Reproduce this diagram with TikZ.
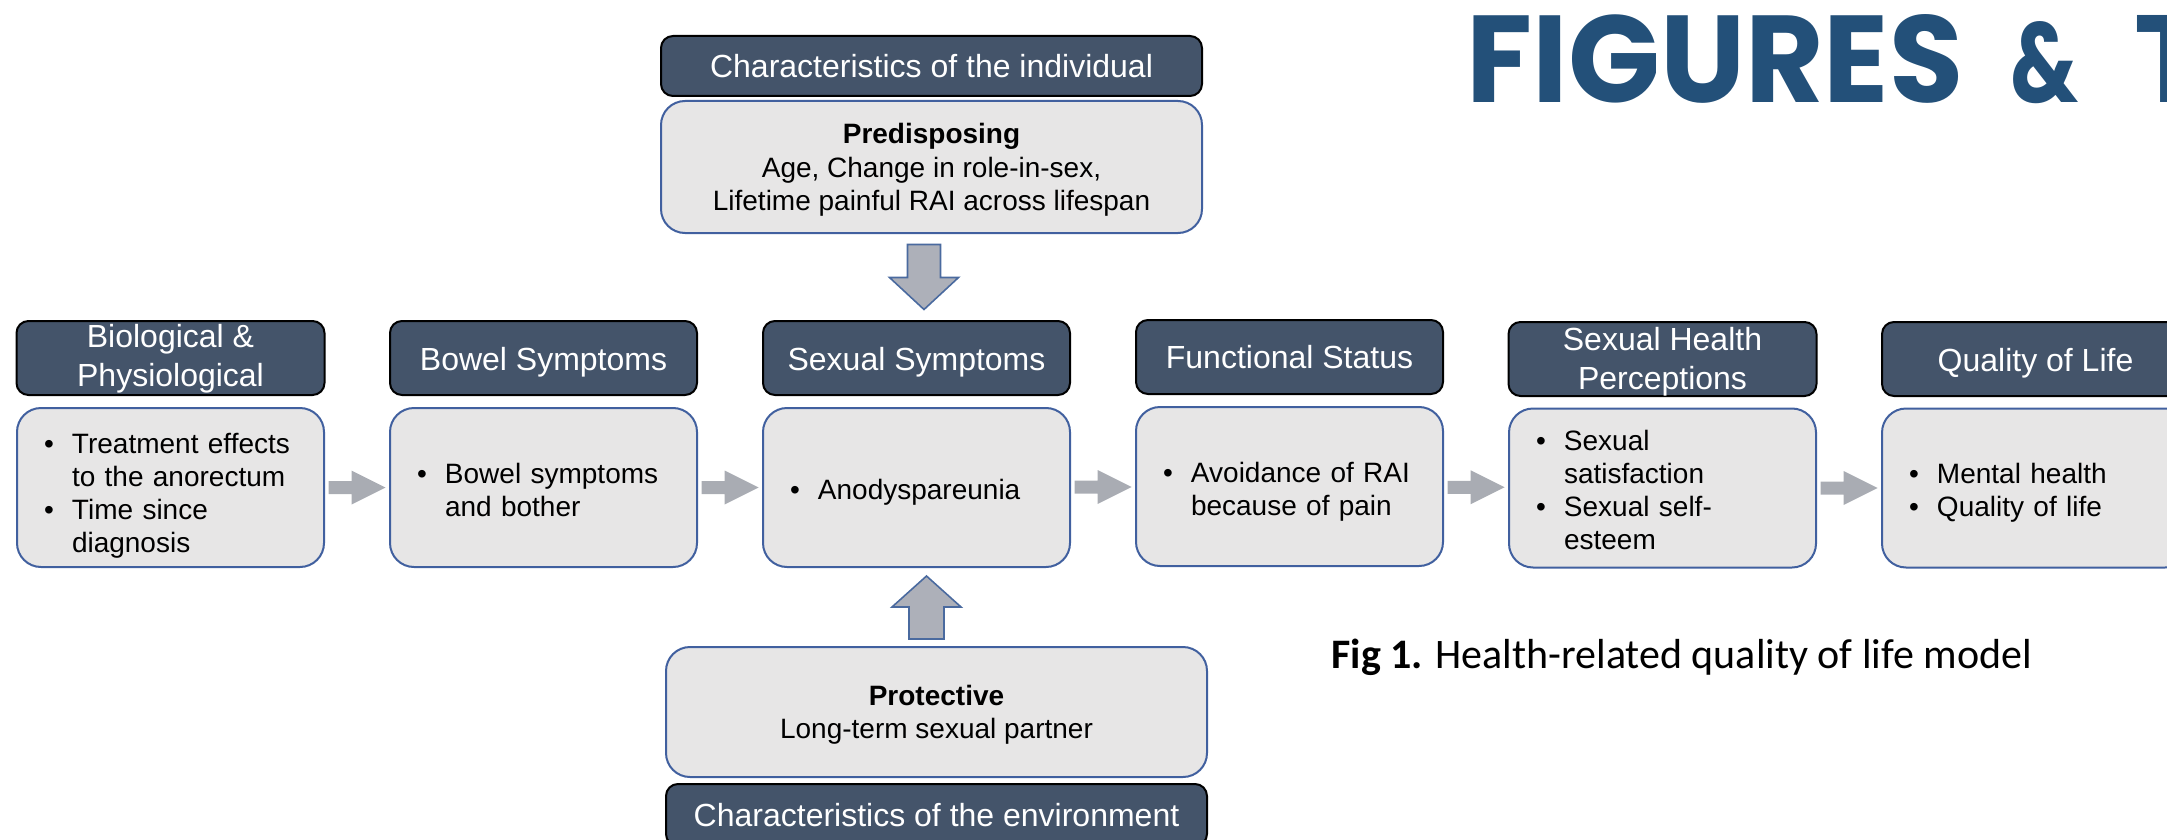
\documentclass[tikz,border=0pt]{standalone}
\usepackage{graphicx}
\usepackage{fontspec}
\setmainfont{Liberation Sans}
\newfontfamily\capfont{Carlito}
\newfontfamily\figfont{Poppins}
\usetikzlibrary{calc}
\setlength{\parindent}{0pt}
\definecolor{hdrfill}{HTML}{44546A}
\definecolor{boxfill}{HTML}{E7E6E6}
\definecolor{boxline}{HTML}{41609F}
\definecolor{arrgray}{HTML}{A9ACB3}
\definecolor{varrfill}{HTML}{ADB0B9}
\definecolor{varrline}{HTML}{4A6A9F}
\definecolor{figblue}{HTML}{235079}
% shift content down by #1 inside its node, keeping its total height
\newcommand{\tdown}[2]{\raisebox{0pt}[\dimexpr\height+#1\relax][\dimexpr\depth-#1\relax]{#2}}
\newcommand{\blist}[2]{\tdown{#1}{\begin{tabular}{@{}p{14pt}@{}l@{}}#2\end{tabular}}}
\newcommand{\plines}[3]{\tdown{#1}{\parbox{#2}{\centering #3}}}
\newcommand{\harrow}[2]{%
  \path ($(#1.east)!0.5!(#2.west)$) coordinate (ha#1);
  \fill[arrgray] ($(ha#1)+(-28.5,-6.5)$) -- ++(23,0) -- ++(0,-10.5) -- ++(34,17)
     -- ++(-34,17) -- ++(0,-10.5) -- ++(-23,0) -- cycle;}
\tikzset{
  hdr/.style={draw=black, line width=1pt, fill=hdrfill, rounded corners=6pt,
    text=white, font=\fontsize{16}{19.5}\selectfont, align=center,
    minimum width=153.5pt, minimum height=37pt, inner xsep=2pt, inner ysep=1pt},
  cbox/.style={draw=boxline, line width=1pt, fill=boxfill, rounded corners=12pt,
    minimum width=153.5pt, minimum height=79.5pt, text width=126.5pt,
    inner xsep=13.5pt, inner ysep=2pt, align=left,
    font=\fontsize{14}{16.5}\selectfont},
  ptbox/.style={draw=boxline, line width=1pt, fill=boxfill, rounded corners=12pt,
    minimum width=270.5pt, align=center, font=\fontsize{14}{16.75}\selectfont},
  varr/.style={fill=varrfill, draw=varrline, line width=0.8pt, line join=miter}
}
\begin{document}
\begin{tikzpicture}[x=0.5pt,y=-0.5pt]
\useasboundingbox (0,0) rectangle (2167,840);
\clip (0,0) rectangle (2167,840);

% title
\node[anchor=base west, inner sep=0, text=figblue,
  font=\figfont\bfseries\fontsize{62}{62}\selectfont] (fig) at (1466,103)
  {\resizebox{248.5pt}{44pt}{FIGURES}\hspace{23.5pt}\resizebox{34pt}{40.5pt}{\&}\hspace{28pt}T};

% top block
\node[hdr, minimum width=270.5pt, minimum height=30pt] (indiv) at (931.5,66) {Characteristics of the individual};
\node[ptbox, minimum height=66pt] (pred) at (931.5,167)
  {\plines{1.5pt}{260pt}{\textbf{Predisposing}\\Age, Change in role-in-sex,\\Lifetime painful RAI across lifespan}};

% row headers
\node[hdr] (bioh) at (170.5,358) {\plines{0.5pt}{150pt}{Biological \&\\Physiological}};
\node[hdr] (bowh) at (543.5,358) {\tdown{2pt}{Bowel Symptoms}};
\node[hdr] (sexh) at (916.5,358) {\tdown{2pt}{Sexual Symptoms}};
\node[hdr] (funh) at (1289.5,357) {Functional Status};
\node[hdr] (shph) at (1662.5,359) {\plines{1.5pt}{150pt}{Sexual Health\\Perceptions}};
\node[hdr] (qolh) at (2035.5,359) {\tdown{2pt}{Quality of Life}};

% row contents
\node[cbox] (bioc) at (170.5,487.5) {\blist{4.5pt}{\textbullet & Treatment effects\\ & to the anorectum\\ \textbullet & Time since\\ & diagnosis}};
\node[cbox] (bowc) at (543.5,487.5) {\blist{2.75pt}{\textbullet & Bowel symptoms\\ & and bother}};
\node[cbox] (sexc) at (916.5,487.5) {\blist{2.5pt}{\textbullet & Anodyspareunia}};
\node[cbox] (func) at (1289.5,486.5) {\blist{2.75pt}{\textbullet & Avoidance of RAI\\ & because of pain}};
\node[cbox] (shpc) at (1662.5,488) {\blist{2.75pt}{\textbullet & Sexual\\ & satisfaction\\ \textbullet & Sexual self-\\ & esteem}};
\node[cbox] (qolc) at (2035.5,488) {\blist{2.75pt}{\textbullet & Mental health\\ \textbullet & Quality of life}};

% horizontal arrows
\harrow{bioc}{bowc}
\harrow{bowc}{sexc}
\harrow{sexc}{func}
\harrow{func}{shpc}
\harrow{shpc}{qolc}

% bottom block
\node[ptbox, minimum height=65pt] (prot) at (936.5,712)
  {\plines{1.5pt}{260pt}{\textbf{Protective}\\Long-term sexual partner}};
\node[hdr, minimum width=270.5pt, minimum height=31pt] (env) at (936.5,815) {Characteristics of the environment};

% vertical arrows
\path ($(pred.south)!0.5!(sexh.north)$) coordinate (dn);
\filldraw[varr] ($(dn)+(-16.5,-32.5)$) -- ++(33,0) -- ++(0,33) -- ++(18,0)
   -- ++(-34.5,32) -- ++(-34.5,-32) -- ++(18,0) -- cycle;
\path ($(sexc.south)!0.5!(prot.north)$) coordinate (up);
\filldraw[varr] ($(up)+(0,-31)$) -- ++(34.5,31) -- ++(-17,0) -- ++(0,32)
   -- ++(-35,0) -- ++(0,-32) -- ++(-17,0) -- cycle;

% caption
\node[anchor=base west, inner sep=0, font=\capfont\fontsize{21}{24}\selectfont] (cap) at (1331,668)
  {\textbf{Fig 1.} Health-related quality of life model};
\end{tikzpicture}
\end{document}
